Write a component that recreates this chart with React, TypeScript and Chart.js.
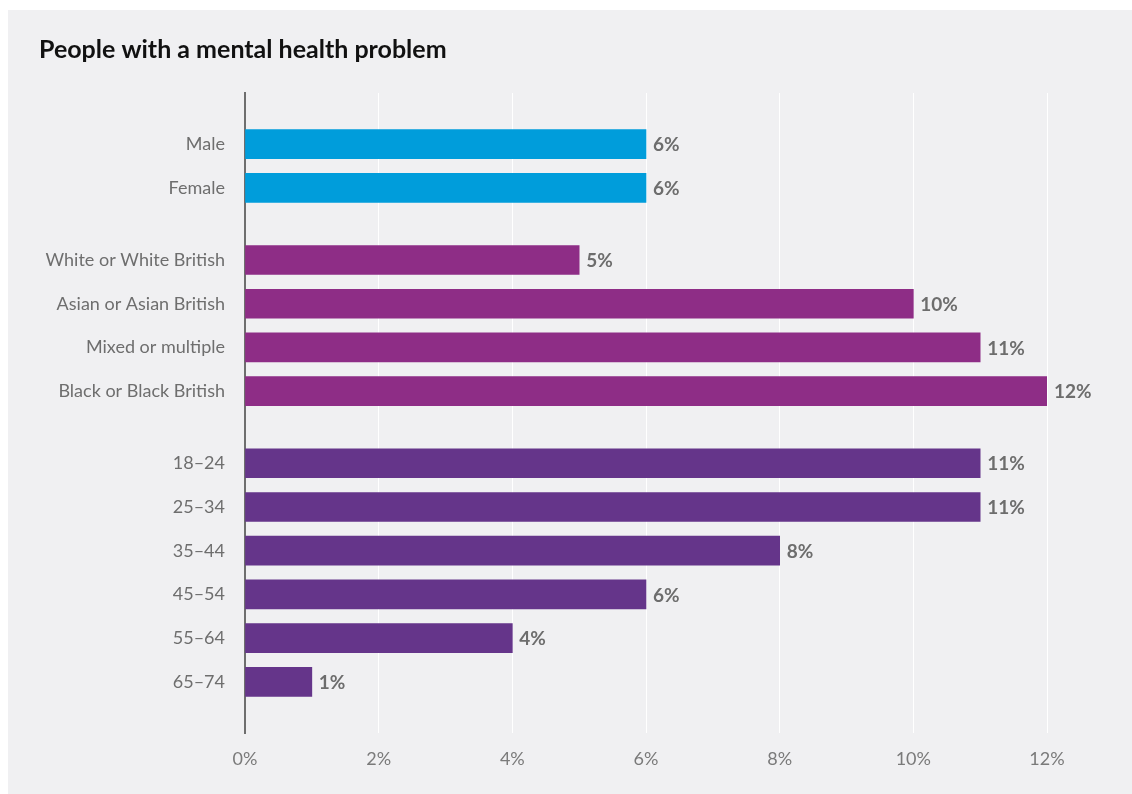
import React, { useEffect, useRef } from "react";
import { Chart, registerables } from "chart.js";

Chart.register(...registerables);

const title = "People with a mental health problem";
const categories = [
  "Male", "Female",
  "White or White British", "Asian or Asian British", "Mixed or multiple", "Black or Black British",
  "18–24", "25–34", "35–44", "45–54", "55–64", "65–74",
];
const groups = [0, 0, 1, 1, 1, 1, 2, 2, 2, 2, 2, 2];
const values = [6, 6, 5, 10, 11, 12, 11, 11, 8, 6, 4, 1];
const groupColors = ["#009ddb", "#8e2d86", "#65358a"];
const xTicks = [0, 2, 4, 6, 8, 10, 12];

const GAP = 0.65;
const PAD = 1.17;

export default function App() {
  const ref = useRef<HTMLCanvasElement | null>(null);

  useEffect(() => {
    document.body.style.margin = "0";
    document.body.style.overflow = "hidden";
    const canvas = ref.current;
    if (!canvas) return;
    const positions = categories.map((_, i) => i + groups[i] * GAP);
    const data = values.map((v, i) => ({ x: v, y: positions[i] }));
    const fontFamily = "Lato, 'Open Sans', sans-serif";

    const labelPlugin = {
      id: "barLabels",
      afterDatasetsDraw(chart: any) {
        const ctx = chart.ctx;
        const meta = chart.getDatasetMeta(0);
        ctx.save();
        ctx.font = `bold 19px ${fontFamily}`;
        ctx.fillStyle = "#6d6d6d";
        ctx.textAlign = "left";
        ctx.textBaseline = "middle";
        meta.data.forEach((el: any, i: number) => {
          ctx.fillText(`${values[i]}%`, el.x + 7, el.y + 1);
        });
        ctx.restore();
      },
    };

    const chart = new Chart(canvas, {
      type: "bar",
      data: {
        datasets: [
          {
            data: data as any,
            backgroundColor: groups.map((g) => groupColors[g]),
            barThickness: 29,
            borderWidth: 0,
          },
        ],
      },
      options: {
        indexAxis: "y",
        animation: false,
        responsive: false,
        maintainAspectRatio: false,
        layout: { padding: { left: 31, right: 85, top: 0, bottom: 0 } },
        plugins: {
          legend: { display: false },
          tooltip: { enabled: false },
          title: {
            display: true,
            text: title,
            align: "start",
            color: "#111111",
            font: { family: fontFamily, size: 25, weight: "bold", lineHeight: 1.2 },
            padding: { top: 25, bottom: 28 },
          },
        },
        scales: {
          x: {
            type: "linear",
            min: 0,
            max: 12,
            afterBuildTicks: (scale: any) => {
              scale.ticks = xTicks.map((v) => ({ value: v }));
            },
            afterFit: (scale: any) => {
              scale.height = 61;
            },
            grid: { color: "#ffffff", lineWidth: 1, drawTicks: false },
            border: { display: false },
            ticks: {
              padding: 15.5,
              color: "#7a7a7a",
              font: { family: fontFamily, size: 18 },
              callback: (v: any) => `${v}%`,
            },
          },
          y: {
            type: "linear",
            reverse: true,
            offset: false,
            min: -PAD,
            max: positions[positions.length - 1] + PAD,
            afterBuildTicks: (scale: any) => {
              scale.ticks = positions.map((p) => ({ value: p }));
            },
            afterFit: (scale: any) => {
              scale.width = 206;
            },
            grid: { display: false, drawTicks: false, offset: false },
            border: { display: true, color: "#6e6e6e", width: 2 },
            ticks: {
              padding: 20,
              color: "#6e6e6e",
              font: { family: fontFamily, size: 18 },
              autoSkip: false,
              callback: (_v: any, i: number) => categories[i],
            },
          },
        },
      },
      plugins: [labelPlugin],
    });
    return () => chart.destroy();
  }, []);

  return (
    <div
      style={{
        position: "absolute",
        left: 8,
        top: 10,
        width: 1124,
        height: 784,
        background: "#f0f0f2",
      }}
    >
      <canvas ref={ref} width={1124} height={784} style={{ display: "block" }} />
    </div>
  );
}
